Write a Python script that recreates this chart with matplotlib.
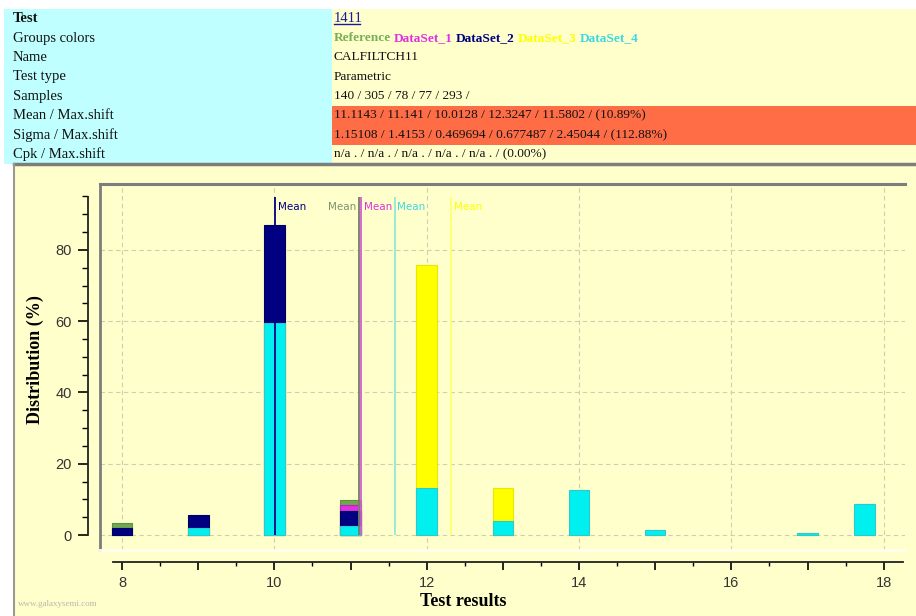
import matplotlib
matplotlib.use("Agg")
import matplotlib.pyplot as plt
from matplotlib.patches import Rectangle
from matplotlib.lines import Line2D
from matplotlib.ticker import MultipleLocator, FuncFormatter

W, H = 916, 616

# ---- table data ----
row_labels = ["Test", "Groups colors", "Name", "Test type", "Samples",
              "Mean / Max.shift", "Sigma / Max.shift", "Cpk / Max.shift"]
test_id = "1411"
group_names = ["Reference", "DataSet_1", "DataSet_2", "DataSet_3", "DataSet_4"]
test_name = "CALFILTCH11"
test_type = "Parametric"
samples = "140 / 305 / 78 / 77 / 293 /"
mean_row = "11.1143 / 11.141 / 10.0128 / 12.3247 / 11.5802 / (10.89%)"
sigma_row = "1.15108 / 1.4153 / 0.469694 / 0.677487 / 2.45044 / (112.88%)"
cpk_row = "n/a . / n/a . / n/a . / n/a . / n/a . / (0.00%)"

# ---- histogram data (percent per bin) ----
ref_x = [8, 11]
ref_y = [3.5, 9.7]
ds1_x = [11]
ds1_y = [8.3]
ds3_x = [12, 13]
ds3_y = [75.8, 13.3]
ds2_x = [8, 9, 10, 11]
ds2_y = [1.9, 5.5, 87.0, 6.8]
ds4_x = [9, 10, 11, 12, 13, 14, 15, 17, 17.75]
ds4_y = [2.0, 59.4, 2.4, 13.1, 4.0, 12.7, 1.3, 0.6, 8.6]

means = [11.1143, 11.141, 10.0128, 12.3247, 11.5802]

group_colors = ["#6fa84f", "#e030e0", "#000080", "#ffff00", "#00f0f0"]
line_colors = ["#7a7a70", "#d060d0", "#000080", "#ffff70", "#90e8d8"]
label_colors = ["#809070", "#e030e0", "#000080", "#ffff00", "#40d8e0"]
header_colors = ["#78b058", "#e030e0", "#000080", "#ffff00", "#40d8e0"]

CYAN_BG = "#c0ffff"
YEL_BG = "#ffffcc"
ORANGE = "#ff6d47"


def fx(x):
    return x / W


def fy(y):
    return 1 - y / H


fig = plt.figure(figsize=(W / 100, H / 100), dpi=100)
fig.patch.set_facecolor("white")


def rect(x0, y0, x1, y1, color):
    fig.patches.append(Rectangle((fx(x0), fy(y1)), fx(x1 - x0), (y1 - y0) / H,
                                 transform=fig.transFigure, color=color, lw=0, zorder=-5))


# table backgrounds
top, row_h = 9, 19.4
rect(4, top, 332, 164, CYAN_BG)
rect(332, top, W, 164, YEL_BG)
rect(332, top + 5 * row_h, W, top + 7 * row_h, ORANGE)

# chart panel
rect(14, 164, W, H, YEL_BG)
fig.lines.append(Line2D([fx(14), fx(W)], [fy(164), fy(164)], transform=fig.transFigure,
                        color="#7d7d7d", lw=2.5))
fig.lines.append(Line2D([fx(14), fx(14)], [fy(164), fy(H)], transform=fig.transFigure,
                        color="#9a9a90", lw=1.5))

serif = "Liberation Serif"
tsize = 10.5
vsize = 9.6
for i, lab in enumerate(row_labels):
    yc = top + row_h * (i + 0.5)
    fig.text(fx(13), fy(yc), lab, fontsize=tsize, family=serif, va="center",
             fontweight="bold" if i == 0 else "normal", color="#111111")

renderer = fig.canvas.get_renderer()

# test id with underline
yc = top + row_h * 0.5
t = fig.text(fx(334), fy(yc), test_id, fontsize=tsize, family=serif, va="center", color="#1a1a9a")
bb = t.get_window_extent(renderer)
fig.lines.append(Line2D([bb.x0 / W, (bb.x1 - 3) / W], [(bb.y0 + 1) / H, (bb.y0 + 1) / H],
                        transform=fig.transFigure, color="#1a1a9a", lw=1))

# group colors, one word after another
yc = top + row_h * 1.5
x = 334
for name, col in zip(group_names, header_colors):
    t = fig.text(fx(x), fy(yc), name, fontsize=vsize, family=serif, va="center",
                 fontweight="bold", color=col)
    bb = t.get_window_extent(renderer)
    x = bb.x1 + 3

values = [test_name, test_type, samples, mean_row, sigma_row, cpk_row]
for i, v in enumerate(values):
    yc = top + row_h * (i + 2.5)
    fig.text(fx(334), fy(yc), v, fontsize=vsize, family=serif, va="center", color="#111111")

# ---- chart ----
ax = fig.add_axes([fx(100), fy(550), fx(805), 366 / H])
ax.set_facecolor(YEL_BG)
ax.set_xlim(7.71, 18.28)
ax.set_ylim(-4.2, 98.5)

for v in range(8, 19, 2):
    ax.axvline(v, color="#cfcfb0", lw=0.8, ls=(0, (4, 3)), zorder=1)
for v in range(0, 81, 20):
    ax.axhline(v, color="#cfcfb0", lw=0.8, ls=(0, (4, 3)), zorder=1)

bw = 0.27
order = [(ref_x, ref_y, 0), (ds1_x, ds1_y, 1), (ds3_x, ds3_y, 3),
         (ds2_x, ds2_y, 2), (ds4_x, ds4_y, 4)]
edge = {0: "#5a9040", 1: "#c020c0", 2: "#000060", 3: "#e8e800", 4: "#30c8c8"}
for xs, ys, k in order:
    ax.bar(xs, ys, width=bw, color=group_colors[k], edgecolor=edge[k], lw=0.8, zorder=2)

for k, m in enumerate(means):
    ax.vlines(m, 0, 94.9, color=line_colors[k], lw=1.3, zorder=3)
    if k == 0:
        ax.text(m - 0.04, 92, "Mean", color=label_colors[k], fontsize=7.5,
                ha="right", va="center", zorder=4)
    else:
        ax.text(m + 0.03, 92, "Mean", color=label_colors[k], fontsize=7.5,
                ha="left", va="center", zorder=4)

ax.spines["right"].set_visible(False)
ax.spines["top"].set_color("#7d7d7d")
ax.spines["top"].set_linewidth(2.2)
ax.plot([0, 0], [0, 1], transform=ax.transAxes, color="#7d7d7d", lw=2.0, clip_on=False)
ax.plot([0, 1], [0, 0], transform=ax.transAxes, color="#fffff0", lw=2.0, clip_on=False)

ax.spines["left"].set_position(("outward", 8.6))
ax.spines["left"].set_bounds(0, 94.9)
ax.spines["bottom"].set_position(("outward", 8.6))
ax.spines["bottom"].set_bounds(7.88, 18.25)
for s in ["left", "bottom"]:
    ax.spines[s].set_color("#222222")
    ax.spines[s].set_linewidth(1.3)

ax.yaxis.set_major_locator(MultipleLocator(20))
ax.yaxis.set_minor_locator(MultipleLocator(5))
ax.xaxis.set_major_locator(MultipleLocator(1))
ax.xaxis.set_minor_locator(MultipleLocator(0.5))
ax.xaxis.set_major_formatter(FuncFormatter(lambda v, p: "%d" % v if int(round(v)) % 2 == 0 else ""))
ax.tick_params(axis="y", which="major", length=7.5, width=1.2, pad=4, labelsize=10.5,
               labelcolor="#333333")
ax.tick_params(axis="y", which="minor", length=4, width=1.0)
ax.tick_params(axis="x", which="major", length=6, width=1.2, pad=4, labelsize=10.5,
               labelcolor="#333333")
ax.tick_params(axis="x", which="minor", length=3, width=1.0)
for lab in ax.get_xticklabels() + ax.get_yticklabels():
    lab.set_family("Liberation Sans")
ax.set_ylim(-4.2, 98.5)

fig.text(fx(35), fy(360), "Distribution (%)", rotation=90, fontsize=13, family=serif,
         fontweight="bold", ha="center", va="center")
fig.text(fx(463), fy(601), "Test results", fontsize=13, family=serif,
         fontweight="bold", ha="center", va="center")
fig.text(fx(18), fy(604), "www.galaxysemi.com", fontsize=6.5, family=serif,
         color="#b8b8a8", ha="left", va="center")

fig.savefig("out.png", dpi=100)
